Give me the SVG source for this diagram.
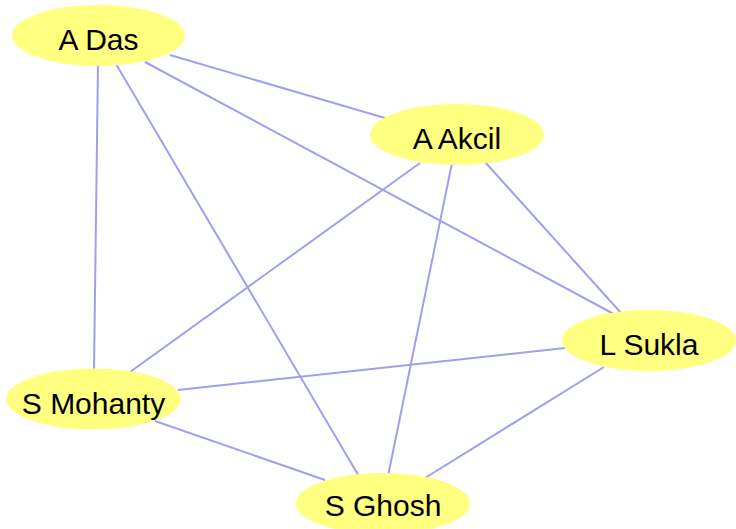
<svg xmlns="http://www.w3.org/2000/svg" width="736" height="529" viewBox="0 0 736 529">
<style>
.e{stroke:#9f9ff0;stroke-width:2;fill:none}
.n{fill:#ffff80;stroke:none}
.t{font-family:"Liberation Sans",Arial,sans-serif;font-size:30px;fill:#000;text-anchor:middle}
</style>
<rect width="736" height="529" fill="#fff"/>
<g id="edges">
<line class="e" x1="170" y1="55" x2="385" y2="118"/>
<line class="e" x1="145" y1="62" x2="625" y2="320"/>
<line class="e" x1="98" y1="64" x2="94" y2="370"/>
<line class="e" x1="116" y1="64" x2="360" y2="478"/>
<line class="e" x1="420" y1="163" x2="130" y2="372"/>
<line class="e" x1="452" y1="163" x2="388" y2="476"/>
<line class="e" x1="485" y1="162" x2="622" y2="314"/>
<line class="e" x1="565" y1="348" x2="178" y2="390"/>
<line class="e" x1="604" y1="367" x2="425" y2="478"/>
<line class="e" x1="155" y1="421" x2="325" y2="480"/>
</g>
<g id="n-adas"><ellipse class="n" cx="98.5" cy="35.5" rx="86.5" ry="30.5"/><text class="t" x="98.5" y="50">A Das</text></g>
<g id="n-aakcil"><ellipse class="n" cx="457" cy="134.5" rx="87" ry="30.5"/><text class="t" x="457" y="149">A Akcil</text></g>
<g id="n-lsukla"><ellipse class="n" cx="649" cy="340.5" rx="87" ry="30.5"/><text class="t" x="649" y="355">L Sukla</text></g>
<g id="n-smohanty"><ellipse class="n" cx="93.5" cy="399" rx="87.5" ry="30.5"/><text class="t" x="93.5" y="414">S Mohanty</text></g>
<g id="n-sghosh"><ellipse class="n" cx="383" cy="503.5" rx="87" ry="30.5"/><text class="t" x="383" y="516">S Ghosh</text></g>
</svg>
